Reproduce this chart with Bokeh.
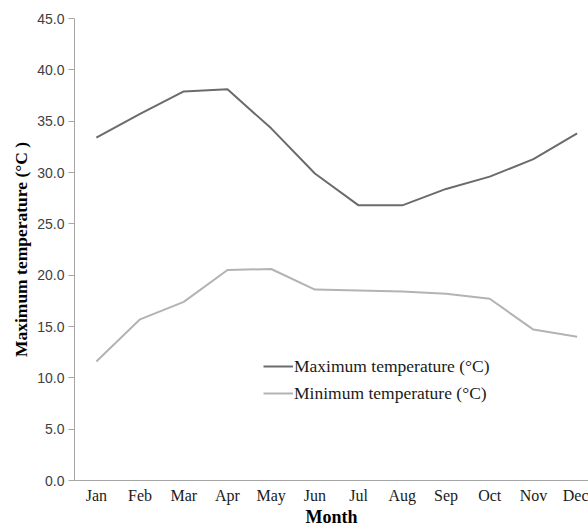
from bokeh.plotting import figure
from bokeh.models import Range1d, Legend, LegendItem, SingleIntervalTicker, FixedTicker, NumeralTickFormatter, Title
from bokeh.embed import file_html
from bokeh.resources import INLINE

months = ["Jan", "Feb", "Mar", "Apr", "May", "Jun", "Jul", "Aug", "Sep", "Oct", "Nov", "Dec"]
max_temp = [33.4, 35.7, 37.9, 38.1, 34.3, 29.9, 26.8, 26.8, 28.4, 29.6, 31.3, 33.8]
min_temp = [11.6, 15.7, 17.4, 20.5, 20.6, 18.6, 18.5, 18.4, 18.2, 17.7, 14.7, 14.0]
y_title = "Maximum temperature (°C )"
x_title = "Month"

SERIF = "Liberation Serif"
SANS = "Liberation Sans"

xs = list(range(len(months)))

p = figure(width=588, height=529, x_range=Range1d(-0.5, 11.26), y_range=Range1d(0, 45),
           output_backend="svg", toolbar_location=None,
           min_border_left=74, min_border_right=0, min_border_top=18, min_border_bottom=48)
p.outline_line_color = None
p.xgrid.visible = False
p.ygrid.visible = False

r1 = p.line(xs, max_temp, line_color="#6b6b6b", line_width=2)
r2 = p.line(xs, min_temp, line_color="#b3b3b3", line_width=2)

legend = Legend(items=[LegendItem(label="Maximum temperature (°C)", renderers=[r1]),
                       LegendItem(label="Minimum temperature (°C)", renderers=[r2])],
                location=(189, 76), padding=0, margin=0, spacing=5,
                glyph_width=30, glyph_height=22, label_standoff=1,
                border_line_color=None, background_fill_alpha=0,
                label_text_font=SERIF, label_text_font_size="17.5px", label_text_color="#1a1a1a")
p.add_layout(legend, "center")

ytitle = Title(text=y_title, align="center", offset=34, text_font=SERIF, text_font_size="17.5px",
               text_font_style="bold", text_color="#000000", standoff=7)
p.add_layout(ytitle, "left")

p.xaxis.ticker = FixedTicker(ticks=xs)
p.xaxis.major_label_overrides = {i: m for i, m in zip(xs, months)}
p.yaxis.ticker = SingleIntervalTicker(interval=5)
p.yaxis.formatter = NumeralTickFormatter(format="0.0")
p.xaxis.axis_label = x_title
for ax in (p.xaxis[0], p.yaxis[0]):
    ax.axis_line_color = "#a6a6a6"
    ax.major_tick_line_color = "#a6a6a6"
    ax.minor_tick_line_color = None
    ax.axis_label_text_font = SERIF
    ax.axis_label_text_font_style = "bold"
    ax.axis_label_text_color = "#000000"
p.xaxis.major_label_text_font = SERIF
p.xaxis.major_label_text_font_size = "16px"
p.xaxis.major_label_text_color = "#1a1a1a"
p.yaxis.major_label_text_font = SANS
p.yaxis.major_label_text_font_size = "14px"
p.yaxis.major_label_text_color = "#404040"
p.xaxis.axis_label_text_font_size = "18px"
p.yaxis.major_tick_in = 0
p.yaxis.major_tick_out = 6
p.xaxis.major_tick_in = 0
p.xaxis.major_tick_out = 0
p.xaxis.major_label_standoff = 6
p.yaxis.major_label_standoff = 4
p.xaxis.axis_label_standoff = 0

open("out.html", "w").write(file_html(p, INLINE))
